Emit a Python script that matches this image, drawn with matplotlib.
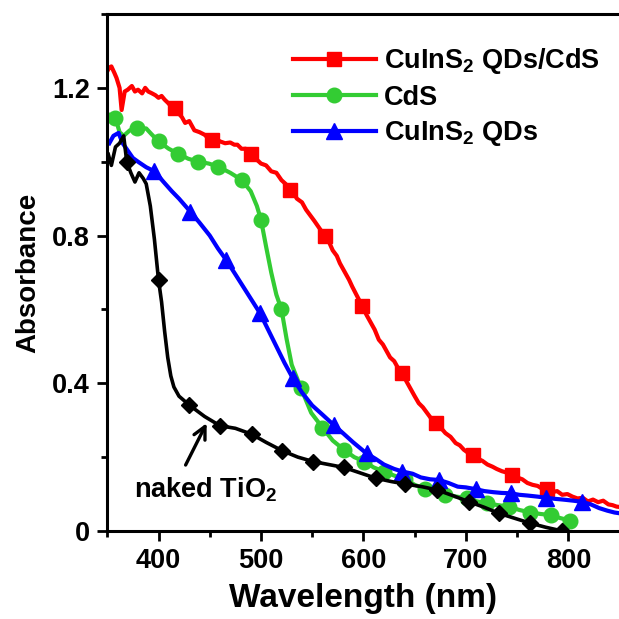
import numpy as np
import matplotlib
matplotlib.use("Agg")
import matplotlib.pyplot as plt
from matplotlib.ticker import MultipleLocator

plt.rcParams['font.family'] = ['Liberation Sans', 'DejaVu Sans']
plt.rcParams['font.weight'] = 'bold'
plt.rcParams['mathtext.fontset'] = 'custom'
plt.rcParams['mathtext.rm'] = 'Liberation Sans:bold'
plt.rcParams['mathtext.bf'] = 'Liberation Sans:bold'
plt.rcParams['mathtext.default'] = 'rm'

# CuInS2 QDs/CdS
red_wl = [350, 352, 354, 357, 359, 362, 364, 367, 370, 374, 377, 380, 384, 387, 390, 393, 397, 400,
          403, 406, 409, 411, 416, 420, 423, 426, 430, 435, 440, 445, 448, 452, 456, 460, 465, 470,
          474, 477, 481, 485, 490, 495, 500, 505, 510, 515, 520, 524, 528, 532, 535, 540, 544, 548,
          552, 557, 562, 566, 570, 574, 577, 582, 586, 589, 594, 599, 603, 607, 611, 615, 619, 622,
          626, 630, 634, 638, 642, 646, 650, 654, 658, 662, 666, 671, 676, 680, 685, 690, 694, 698,
          702, 707, 712, 716, 721, 726, 730, 735, 740, 745, 750, 755, 760, 765, 770, 774, 779, 784,
          789, 794, 799, 804, 809, 814, 819, 824, 829, 834, 839, 843, 847, 850]
red_val = [1.245, 1.255, 1.258, 1.24, 1.227, 1.2, 1.14, 1.19, 1.195, 1.205, 1.19, 1.195, 1.185, 1.2, 1.19, 1.186, 1.18, 1.173,
           1.178, 1.168, 1.16, 1.154, 1.146, 1.13, 1.12, 1.105, 1.11, 1.085, 1.08, 1.073, 1.065, 1.06, 1.062, 1.055, 1.05, 1.052,
           1.046, 1.046, 1.035, 1.035, 1.02, 1.008, 0.995, 0.99, 0.974, 0.97, 0.95, 0.94, 0.924, 0.915, 0.9, 0.89, 0.87, 0.855,
           0.84, 0.82, 0.80, 0.785, 0.76, 0.745, 0.725, 0.70, 0.68, 0.662, 0.635, 0.608, 0.585, 0.565, 0.545, 0.518, 0.505, 0.49,
           0.47, 0.46, 0.44, 0.427, 0.405, 0.385, 0.365, 0.346, 0.335, 0.32, 0.305, 0.292, 0.278, 0.265, 0.255, 0.238, 0.232, 0.22,
           0.212, 0.206, 0.195, 0.19, 0.18, 0.174, 0.168, 0.162, 0.158, 0.152, 0.145, 0.14, 0.13, 0.125, 0.122, 0.115, 0.113, 0.105,
           0.108, 0.098, 0.1, 0.093, 0.088, 0.09, 0.08, 0.085, 0.078, 0.082, 0.072, 0.07, 0.066, 0.065]
red_marks = [416, 452, 490, 528, 562, 599, 638, 671, 707, 745, 779]

# CdS
green_wl = [350, 355, 358, 362, 366, 372, 379, 388, 393, 400, 410, 419, 429, 439, 449, 458, 470, 481,
            490, 496, 500, 505, 510, 515, 520, 525, 530, 539, 549, 560, 570, 581, 591, 601, 610, 620,
            630, 641, 650, 660, 670, 680, 691, 701, 711, 721, 731, 742, 752, 763, 773, 783, 792, 802]
green_val = [1.13, 1.122, 1.118, 1.08, 1.07, 1.085, 1.09, 1.09, 1.075, 1.055, 1.035, 1.022, 1.008, 1.0, 0.995, 0.987, 0.97, 0.951,
             0.92, 0.88, 0.843, 0.77, 0.70, 0.64, 0.60, 0.52, 0.45, 0.387, 0.32, 0.28, 0.245, 0.22, 0.20, 0.188, 0.172, 0.161,
             0.15, 0.14, 0.125, 0.114, 0.106, 0.098, 0.093, 0.089, 0.08, 0.075, 0.07, 0.066, 0.057, 0.05, 0.046, 0.043, 0.035, 0.028]
green_marks = [358, 379, 400, 419, 439, 458, 481, 500, 520, 539, 560, 581, 601, 620, 641, 660, 680, 701, 721, 742, 763, 783, 802]

# CuInS2 QDs
blue_wl = [352, 356, 361, 365, 370, 375, 380, 388, 396, 405, 413, 420, 431, 440, 450, 458, 466, 475, 483,
           491, 499, 507, 515, 523, 531, 540, 550, 560, 571, 580, 590, 603, 612, 620, 630, 638, 648, 656,
           665, 674, 683, 692, 700, 710, 718, 727, 735, 744, 752, 760, 770, 778, 787, 795, 805, 813, 822,
           830, 838, 845, 850]
blue_val = [1.05, 1.07, 1.078, 1.05, 1.03, 1.01, 1.0, 0.985, 0.974, 0.945, 0.92, 0.9, 0.865, 0.835, 0.8, 0.765, 0.734, 0.695, 0.66,
            0.625, 0.59, 0.545, 0.5, 0.455, 0.414, 0.375, 0.34, 0.315, 0.287, 0.265, 0.24, 0.21, 0.195, 0.18, 0.168, 0.161, 0.155, 0.145,
            0.14, 0.138, 0.13, 0.12, 0.118, 0.113, 0.108, 0.105, 0.103, 0.102, 0.098, 0.096, 0.093, 0.09, 0.087, 0.085, 0.082, 0.079, 0.072,
            0.062, 0.055, 0.05, 0.048]
blue_marks = [396, 431, 466, 499, 531, 571, 603, 638, 674, 710, 744, 778, 813]

# naked TiO2
black_wl = [351, 354, 358, 362, 366, 369, 373, 377, 381, 385, 388, 392, 396, 400, 403, 406, 409, 412, 415,
            420, 430, 445, 460, 475, 491, 505, 521, 536, 551, 566, 581, 596, 612, 627, 641, 657, 672, 688,
            703, 718, 732, 748, 763, 778, 794]
black_val = [1.02, 0.99, 1.04, 1.05, 1.07, 1.0, 0.97, 0.945, 0.97, 0.955, 0.94, 0.88, 0.79, 0.68, 0.62, 0.54, 0.47, 0.42, 0.39,
             0.365, 0.341, 0.31, 0.285, 0.278, 0.262, 0.24, 0.217, 0.2, 0.188, 0.18, 0.172, 0.158, 0.143, 0.134, 0.127, 0.12, 0.111, 0.095,
             0.079, 0.064, 0.048, 0.034, 0.021, 0.01, 0.0]
black_marks = [369, 400, 430, 460, 491, 521, 551, 581, 612, 641, 672, 703, 732, 763, 794]

fig = plt.figure(figsize=(6.19, 6.19), dpi=100)
ax = fig.add_axes([0.1733, 0.1422, 0.8277, 0.8352])

def marks(wl, sel):
    return [i for i, w in enumerate(wl) if w in sel]

ax.plot(red_wl, red_val, color='#ff0000', lw=3.0, marker='s', ms=10,
        markevery=marks(red_wl, red_marks), label='CuInS$_2$ QDs/CdS')
ax.plot(green_wl, green_val, color='#33cc33', lw=3.0, marker='o', ms=10.5,
        markevery=marks(green_wl, green_marks), label='CdS')
ax.plot(blue_wl, blue_val, color='#0000ff', lw=3.0, marker='^', ms=11,
        markevery=marks(blue_wl, blue_marks), label='CuInS$_2$ QDs')
ax.plot(black_wl, black_val, color='black', lw=2.6, marker='D', ms=8.5,
        markevery=marks(black_wl, black_marks))

ax.annotate('naked TiO$_2$', xy=(447, 0.292), xytext=(446, 0.092),
            ha='center', va='baseline', fontsize=19.5, fontweight='bold',
            arrowprops=dict(arrowstyle='->', lw=2.4, color='black', mutation_scale=22,
                            shrinkA=0, shrinkB=0, relpos=(0.36, 1.35)))

ax.set_xlim(350, 850)
ax.set_ylim(0, 1.4)
ax.xaxis.set_major_locator(MultipleLocator(100))
ax.xaxis.set_minor_locator(MultipleLocator(50))
ax.yaxis.set_major_locator(MultipleLocator(0.4))
ax.yaxis.set_minor_locator(MultipleLocator(0.2))
ax.set_yticks([0, 0.4, 0.8, 1.2])
ax.set_yticklabels(['0', '0.4', '0.8', '1.2'])
ax.set_xticks([400, 500, 600, 700, 800])
ax.tick_params(which='major', direction='out', length=7.5, width=2, labelsize=19.5, pad=5)
ax.tick_params(which='minor', direction='out', length=4, width=2)
for s in ['left', 'bottom', 'top']:
    ax.spines[s].set_linewidth(2.2)
ax.spines['right'].set_visible(False)

ax.set_xlabel('Wavelength (nm)', fontsize=24, fontweight='bold', labelpad=6)
ax.set_ylabel('Absorbance', fontsize=20, fontweight='bold', labelpad=8)

ax.legend(loc='upper left', bbox_to_anchor=(0.3625, 0.938), frameon=False, fontsize=19.5,
          handlelength=3.05, handletextpad=0.3, labelspacing=0.32, borderpad=0, borderaxespad=0)

fig.savefig('out.png', dpi=100)
